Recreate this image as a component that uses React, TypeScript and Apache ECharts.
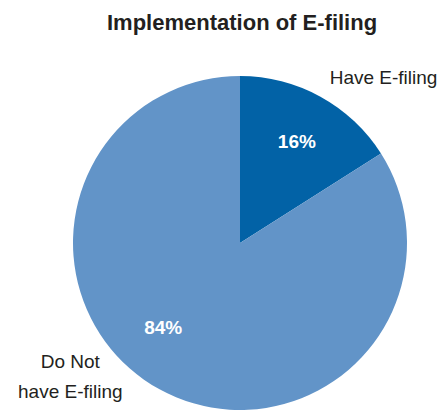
import React, { useEffect, useRef } from "react";
import * as echarts from "echarts";

const categories = ["Have E-filing", "Do Not\nhave E-filing"];
const values = [16, 84];
const colors = ["#0262a6", "#6294c8"];
const titleText = "Implementation of E-filing";

const FONT = "'Liberation Sans', Arial, sans-serif";

export default function App() {
  const ref = useRef<HTMLDivElement>(null);
  useEffect(() => {
    if (!ref.current) return;
    const chart = echarts.init(ref.current, undefined, { renderer: "svg" });
    const data = categories.map((name, i) => ({
      name,
      value: values[i],
      itemStyle: { color: colors[i] },
    }));
    chart.setOption({
      animation: false,
      title: {
        text: titleText,
        left: 102,
        top: 6,
        textStyle: { fontFamily: FONT, fontWeight: "bold", fontSize: 22, color: "#231f20" },
      },
      series: [
        {
          type: "pie",
          center: [240, 243],
          radius: 167,
          startAngle: 90,
          clockwise: true,
          avoidLabelOverlap: false,
          silent: true,
          data,
          label: {
            show: true,
            position: "outside",
            formatter: "{b}",
            fontFamily: FONT,
            fontSize: 19,
            lineHeight: 30,
            color: "#231f20",
            distanceToLabelLine: 0,
          },
          labelLine: { show: false, length: 15, length2: 0 },
          labelLayout: (p: any) => {
            if (p.dataIndex === 0) return { dx: 2, dy: -6 };
            return { align: "center", dx: -82, dy: -26 };
          },
        },
        {
          type: "pie",
          center: [240, 243],
          radius: [0, 230],
          startAngle: 90,
          clockwise: true,
          silent: true,
          data: data.map((d) => ({ ...d, itemStyle: { color: "transparent" } })),
          label: {
            show: true,
            position: "inside",
            formatter: "{c}%",
            fontFamily: FONT,
            fontWeight: "bold",
            fontSize: 19,
            color: "#ffffff",
          },
          labelLayout: (p: any) => (p.dataIndex === 1 ? { dx: -20, dy: -19 } : { dy: 2 }),
        },
      ],
    });
    return () => chart.dispose();
  }, []);
  return (
    <div
      ref={ref}
      style={{ position: "absolute", left: 0, top: 0, width: 446, height: 410 }}
    />
  );
}
